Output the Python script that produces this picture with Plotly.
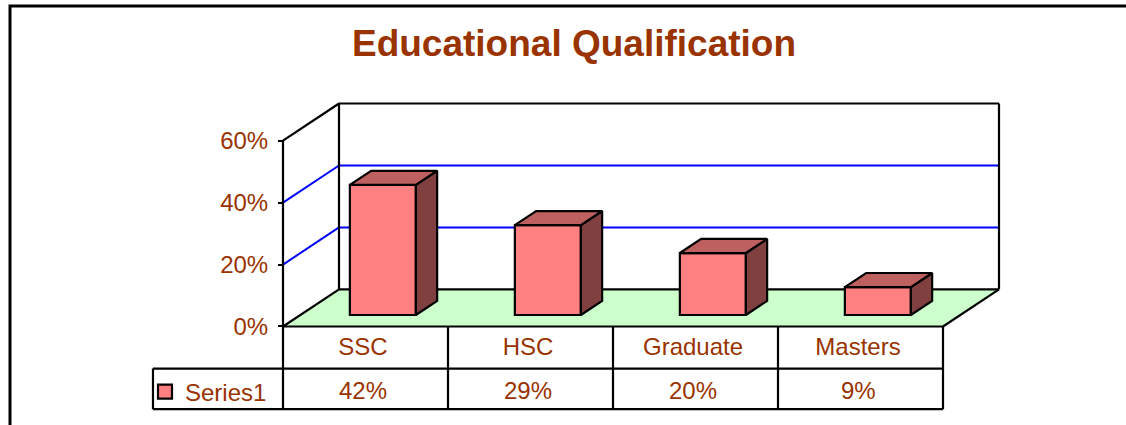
import plotly.graph_objects as go

categories = ["SSC", "HSC", "Graduate", "Masters"]
values = [42, 29, 20, 9]
y_ticks = [0, 20, 40, 60]
series_name = "Series1"
title_text = "Educational Qualification"

W, H = 1126, 425
TEXT = "#993300"
FONT = "Liberation Sans"
LINE_W = 2.2

# fake 3D: one unit of depth moves a point right and up on the axes
DEPTH_X = 56 / 165
DEPTH_Y = 12
BAR_WIDTH = 0.4
BAR_NEAR, BAR_FAR = 0.31, 0.69

# pixels of the front corner of the chart and size of the units
X0_PX, Y0_PX = 283, 326.5
PX_PER_CAT, PX_PER_PCT = 165, 3.097
PAD_X, PAD_Y = 0.05, 1
ROW_1, ROW_2 = -13.6, -26.7
LEGEND_LEFT = -0.788
LABEL_SHIFT = -0.015  # table text sits a little left of the cell centre


def project(x, y, d=0):
    return x + d * DEPTH_X, y + d * DEPTH_Y


def seg(x0, y0, d0, x1, y1, d1, color="black", width=LINE_W):
    ax, ay = project(x0, y0, d0)
    bx, by = project(x1, y1, d1)
    return dict(type="line", xref="x", yref="y", x0=ax, y0=ay, x1=bx, y1=by,
                line=dict(color=color, width=width), layer="below")


n = len(categories)
top = y_ticks[-1]
# axes reach out over the table, so the grid and its texts stay inside the plot area
x_range = [LEGEND_LEFT - PAD_X, n + DEPTH_X + PAD_X]
y_range = [ROW_2 - PAD_Y, top + DEPTH_Y + PAD_Y]

fig = go.Figure()

# front faces
fig.add_trace(go.Bar(
    x=[i + 0.5 + BAR_NEAR * DEPTH_X for i in range(n)],
    y=values,
    base=BAR_NEAR * DEPTH_Y,
    width=BAR_WIDTH,
    name=series_name,
    marker=dict(color="#FF8080", line=dict(color="black", width=LINE_W)),
    showlegend=False,
))

# side and top faces
for i, v in enumerate(values):
    left = i + 0.5 - BAR_WIDTH / 2
    right = i + 0.5 + BAR_WIDTH / 2
    side = [project(right, 0, BAR_NEAR), project(right, 0, BAR_FAR),
            project(right, v, BAR_FAR), project(right, v, BAR_NEAR), project(right, 0, BAR_NEAR)]
    roof = [project(left, v, BAR_NEAR), project(left, v, BAR_FAR),
            project(right, v, BAR_FAR), project(right, v, BAR_NEAR), project(left, v, BAR_NEAR)]
    for pts, color in [(side, "#804040"), (roof, "#BF6060")]:
        fig.add_trace(go.Scatter(
            x=[p[0] for p in pts], y=[p[1] for p in pts],
            mode="lines", fill="toself", fillcolor=color,
            line=dict(color="black", width=LINE_W), showlegend=False, hoverinfo="skip",
        ))

# legend key only, the bar swatch is too small
fig.add_trace(go.Scatter(x=[None], y=[None], mode="markers", name=series_name,
                         marker=dict(symbol="square", size=14, color="#FF8080",
                                     line=dict(color="black", width=LINE_W))))

# floor and walls
floor = [project(0, 0), project(0, 0, 1), project(n, 0, 1), project(n, 0)]
floor_path = "M " + " L ".join(f"{a} {b}" for a, b in floor) + " Z"
shapes = [dict(type="path", xref="x", yref="y", path=floor_path, fillcolor="#CCFFCC",
               line=dict(width=0), layer="below")]
for t in y_ticks[1:-1]:
    shapes.append(seg(0, t, 0, 0, t, 1, "#0000FF", 2))
    shapes.append(seg(0, t, 1, n, t, 1, "#0000FF", 2))
shapes += [
    seg(0, 0, 0, 0, top, 0),
    seg(0, 0, 0, 0, 0, 1),
    seg(0, top, 0, 0, top, 1),
    seg(0, 0, 1, 0, top, 1),
    seg(0, top, 1, n, top, 1),
    seg(n, 0, 1, n, top, 1),
    seg(0, 0, 1, n, 0, 1),
    seg(n, 0, 0, n, 0, 1),
]

# data table grid
for i in range(n + 1):
    shapes.append(seg(i, 0, 0, i, ROW_2, 0))
shapes.append(seg(0, 0, 0, n, 0, 0))
shapes.append(seg(LEGEND_LEFT, ROW_1, 0, n, ROW_1, 0))
shapes.append(seg(LEGEND_LEFT, ROW_2, 0, n, ROW_2, 0))
shapes.append(seg(LEGEND_LEFT, ROW_1, 0, LEGEND_LEFT, ROW_2, 0))

# outer chart frame is cut by the picture on the right and bottom
shapes.append(dict(type="path", xref="paper", yref="paper",
                   path=f"M {10 / W} 0 L {10 / W} {1 - 6 / H} L 1 {1 - 6 / H}",
                   line=dict(color="black", width=3), layer="below"))

annotations = [dict(x=i + 0.5 + LABEL_SHIFT, y=(ROW_1 + ROW_2) / 2, xref="x", yref="y", text=f"{v}%",
                    yshift=-2, showarrow=False, font=dict(family=FONT, size=24, color=TEXT))
               for i, v in enumerate(values)]

fig.update_layout(
    width=W, height=H, autosize=False,
    margin=dict(l=0, r=0, t=0, b=0),
    paper_bgcolor="white", plot_bgcolor="white",
    font=dict(family=FONT, size=24, color=TEXT),
    title=dict(text=title_text, x=574 / W, xanchor="center", y=1 - 43 / H, yanchor="middle",
               font=dict(family=FONT, size=37, color=TEXT, weight="bold")),
    xaxis=dict(
        domain=[(X0_PX + x_range[0] * PX_PER_CAT) / W, (X0_PX + x_range[1] * PX_PER_CAT) / W],
        range=x_range, tickmode="array", tickvals=[i + 0.5 + LABEL_SHIFT for i in range(n)], ticktext=categories,
        showgrid=False, zeroline=False, showline=False, ticks="",
        anchor="free", position=1 - Y0_PX / H, ticklabelstandoff=3,
    ),
    yaxis=dict(
        domain=[1 - (Y0_PX - y_range[0] * PX_PER_PCT) / H, 1 - (Y0_PX - y_range[1] * PX_PER_PCT) / H],
        range=y_range, tickmode="array", tickvals=y_ticks, ticktext=[f"{t}%" for t in y_ticks],
        showgrid=False, zeroline=False, showline=False,
        ticks="outside", ticklen=5, tickwidth=2, tickcolor="black",
        anchor="free", position=X0_PX / W, ticklabelstandoff=5,
    ),
    legend=dict(x=145 / W, y=1 - 392 / H, xanchor="left", yanchor="middle",
                bgcolor="rgba(0,0,0,0)", font=dict(family=FONT, size=24, color=TEXT)),
    shapes=shapes,
    annotations=annotations,
)

# default page has an 8px body margin, which would shift the whole picture
fig.write_html("out.html", config={"displayModeBar": False},
               post_script="document.body.style.margin='0';")
